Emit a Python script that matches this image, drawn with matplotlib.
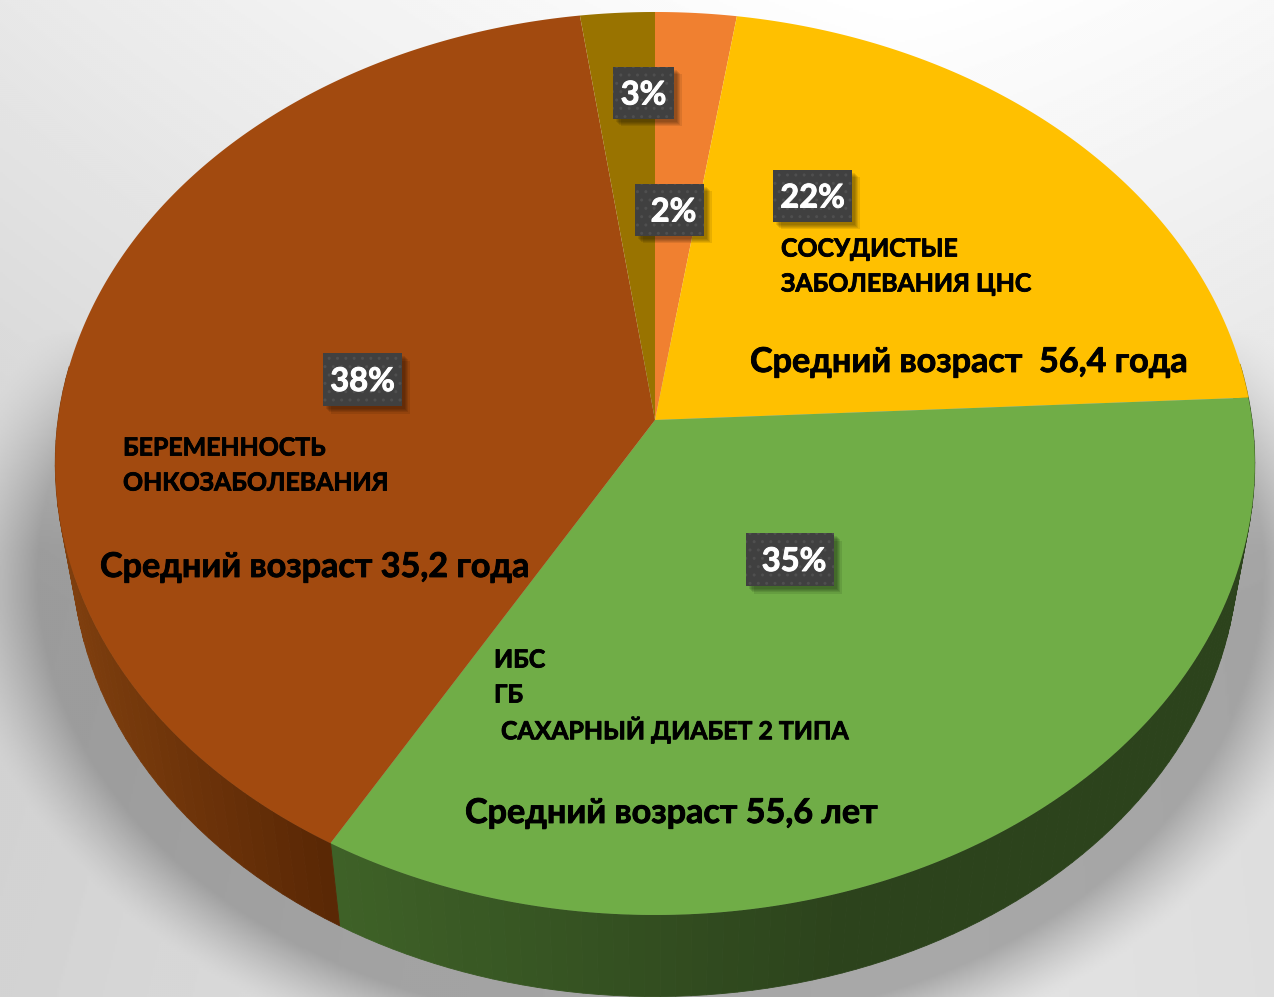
import numpy as np
import matplotlib
matplotlib.use("Agg")
import matplotlib.pyplot as plt
import matplotlib.patheffects as pe
from matplotlib.patches import Rectangle

plt.rcParams['font.family'] = ['Lato', 'Open Sans', 'DejaVu Sans']

# === DATA ===
categories = ["ОКС", "Сосудистые", "ИБС", "Онко", "Прочее"]
shares = [2.4, 21.8, 34.1, 39.5, 2.2]  # slice sizes as drawn (perspective)
pct_labels = ["2%", "22%", "35%", "38%", "3%"]
top_colors = ["#F08030", "#FFC000", "#70AD47", "#A24A0F", "#997300"]
side_left = ["#A05520", "#A08000", "#3E6127", "#7F3F0E", "#705000"]
side_right = ["#A05520", "#A08000", "#2C431C", "#582604", "#705000"]

W, H = 1274, 997
CX, CY = 655, 420
BP, AY, KX = 0.0963, 447.3, 597.0
DEPTH, SHRINK = 89, 0.972


def rim(theta, bottom=False):
    u, v = np.sin(theta), np.cos(theta)
    x = KX * u / (1 + BP * v)
    y = -AY * v / (1 + BP * v)
    if bottom:
        return CX + SHRINK * x, CY + y * 0.985 + DEPTH
    return CX + x, CY + y


def mix(c1, c2, t):
    a, b = np.array(matplotlib.colors.to_rgb(c1)), np.array(matplotlib.colors.to_rgb(c2))
    return a + (b - a) * t


fig = plt.figure(figsize=(W / 100, H / 100), dpi=100)
ax = fig.add_axes([0, 0, 1, 1])
ax.set_xlim(0, W)
ax.set_ylim(H, 0)
ax.axis("off")

# === BACKGROUND AND SHADOW ===
yy, xx = np.mgrid[0:H:2, 0:W:2]
bg = 1.0 - 0.11 * np.clip(yy / 600, 0, 1) - 0.09 * (np.abs(xx - 900) / 900) ** 1.3 * (1 - 0.3 * yy / H)
r = np.sqrt(((xx - 650) / 645) ** 2 + ((yy - 575) / 475) ** 2)
shadow = np.clip(1 - (r - 0.95) / 0.13, 0, 1) ** 1.3
shadow = shadow * np.clip((yy - 330) / 220, 0, 1) ** 0.5
img = bg * (1 - 0.26 * shadow)
ax.imshow(img, cmap="gray", vmin=0, vmax=1, extent=[0, W, H, 0], aspect="auto",
          interpolation="bilinear", zorder=0)

# === PIE ===
edges = np.radians(np.concatenate([[0], np.cumsum(shares)]) * 3.6)

# side wall first, then the top
for i in range(len(shares)):
    th = np.linspace(edges[i], edges[i + 1], 90)
    for a, b in zip(th[:-1], th[1:]):
        if np.cos((a + b) / 2) > 0.12:
            continue
        seg = np.array([a, b])
        x1, y1 = rim(seg)
        x2, y2 = rim(seg[::-1], bottom=True)
        xm = x1.mean()
        t = np.clip((xm - 60) / 280, 0, 1) if i == 3 else np.clip((xm - 340) / 500, 0, 1)
        c = mix(side_left[i], side_right[i], t)
        ax.fill(np.r_[x1, x2], np.r_[y1, y2], color=c, lw=0.6, zorder=2)

for i in range(len(shares)):
    th = np.linspace(edges[i], edges[i + 1], 300)
    x, y = rim(th)
    ax.fill(np.r_[CX, x], np.r_[CY, y], color=top_colors[i], lw=0, zorder=3)

# === PERCENT LABELS ===
boxes = {"2%": (635, 184, 69, 52), "22%": (773, 170, 79, 52), "35%": (746, 533, 88, 53),
         "38%": (323, 353, 79, 53), "3%": (613, 67, 61, 52)}
white_fx = [pe.withStroke(linewidth=0.7, foreground="white")]
black_fx = [pe.withStroke(linewidth=0.6, foreground="black")]
for lab in pct_labels:
    bx, by, bw, bh = boxes[lab]
    for k in range(1, 6):
        ax.add_patch(Rectangle((bx + k * 1.1 + 2, by + k * 1.1 + 2), bw, bh, fc="black", alpha=0.09, lw=0, zorder=4))
    ax.add_patch(Rectangle((bx, by), bw, bh, fc="#404040", ec="#4F4F4F", hatch="..", lw=0, zorder=5))
    dx = {"2%": 4, "35%": 4}.get(lab, 0)
    ax.text(bx + bw / 2 + dx, by + bh / 2 + 2, lab, color="white", fontsize=23.5,
            fontweight="bold", ha="center", va="center", zorder=6, path_effects=white_fx)

# === TEXT ===
small = [("СОСУДИСТЫЕ", 781, 249), ("ЗАБОЛЕВАНИЯ ЦНС", 781, 284),
         ("БЕРЕМЕННОСТЬ", 123, 448), ("ОНКОЗАБОЛЕВАНИЯ", 123, 483),
         ("ИБС", 494, 660), ("ГБ", 494, 695), ("САХАРНЫЙ ДИАБЕТ 2 ТИПА", 501, 730)]
big = [("Средний возраст  56,4 года", 750, 362), ("Средний возраст 35,2 года", 100, 567),
       ("Средний возраст 55,6 лет", 465, 813)]
for s, x, y in small:
    ax.text(x, y, s, fontsize=17.9, fontweight="bold", color="black", ha="left", va="center", zorder=6,
            path_effects=black_fx)
for s, x, y in big:
    ax.text(x, y, s, fontsize=24.6, fontweight="bold", color="black", ha="left", va="center", zorder=6,
            path_effects=black_fx)

fig.savefig("out.png", dpi=100)
